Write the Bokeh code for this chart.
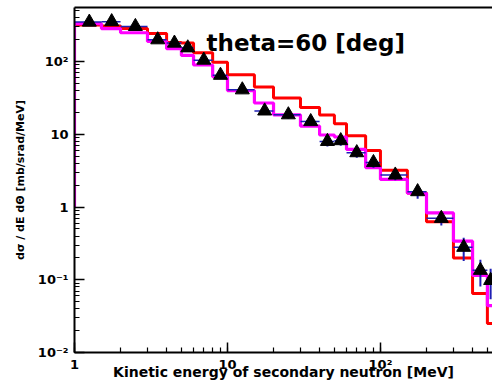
from bokeh.plotting import figure
from bokeh.models import ColumnDataSource, Label, LogAxis, CustomJSTickFormatter, Range1d
from bokeh.embed import file_html
from bokeh.resources import INLINE

# ---- data ----
bin_edges = [1, 1.5, 2, 3, 4, 5, 6, 8, 10, 15, 20, 30, 40, 50, 60, 80, 100,
             150, 200, 300, 400, 500, 550]
red_model = [320, 310, 285, 245, 183, 180, 133, 98, 66, 45, 31.6, 23.5,
             18.5, 14, 9.6, 6.0, 3.2, 1.56, 0.63, 0.2, 0.065, 0.025]
magenta_model = [333, 285, 250, 190, 151, 122, 90, 62, 40, 27, 18.6, 13,
                 9.8, 9.2, 6.2, 3.5, 2.4, 1.55, 0.83, 0.34, 0.115, 0.044]
data_energy = [1.25, 1.75, 2.5, 3.5, 4.5, 5.5, 7, 9, 12.5, 17.5, 25, 35,
               45, 55, 70, 90, 125, 175, 250, 350, 450, 525]
data_value = [350, 355, 305, 200, 180, 155, 105, 65, 41, 21, 18.6, 15,
              8.0, 8.2, 5.6, 4.1, 2.76, 1.63, 0.70, 0.28, 0.135, 0.098]
data_rel_err = [0.08, 0.08, 0.08, 0.1, 0.1, 0.1, 0.1, 0.1, 0.1, 0.12, 0.12,
                0.12, 0.15, 0.15, 0.15, 0.15, 0.15, 0.2, 0.2, 0.35, 0.4, 0.45]
hist_base = 1.0

x_lo, x_hi = 1.0, 540.0
y_lo, y_hi = 0.01, 556.0

p = figure(width=492, height=382, x_axis_type="log", y_axis_type="log",
           x_range=Range1d(x_lo, x_hi), y_range=Range1d(y_lo, y_hi),
           output_backend="svg", toolbar_location=None,
           min_border_left=74, min_border_right=0, min_border_top=7,
           min_border_bottom=30)
p.grid.visible = False
p.outline_line_color = None
p.background_fill_color = "white"


def step_path(edges, vals, base):
    xs, ys = [edges[0]], [base]
    for i, v in enumerate(vals):
        xs += [edges[i], edges[i + 1]]
        ys += [v, v]
    return xs, ys


rx, ry = step_path(bin_edges, red_model, hist_base)
mx, my = step_path(bin_edges, magenta_model, hist_base)
p.line(rx, ry, line_color="#ff0000", line_width=3)
p.line(mx, my, line_color="#ff00ff", line_width=3.2)

src = ColumnDataSource(dict(
    x=data_energy, y=data_value,
    xl=bin_edges[:-1], xr=bin_edges[1:],
    yl=[v * (1 - e) for v, e in zip(data_value, data_rel_err)],
    yh=[v * (1 + e) for v, e in zip(data_value, data_rel_err)],
))
p.segment(x0="xl", y0="y", x1="xr", y1="y", source=src,
          line_color="#1f1fb4", line_width=1.5)
p.segment(x0="x", y0="yl", x1="x", y1="yh", source=src,
          line_color="#1f1fb4", line_width=2)
p.scatter(x="x", y="y", source=src, marker="triangle", size=14,
          fill_color="black", line_color="black")

fmt = CustomJSTickFormatter(code="""
const e = Math.round(Math.log10(tick));
if (e === 0) return '1';
if (e === 1) return '10';
const sup = {'-':'\\u207b','0':'\\u2070','1':'\\u00b9','2':'\\u00b2','3':'\\u00b3',
             '4':'\\u2074','5':'\\u2075','6':'\\u2076','7':'\\u2077','8':'\\u2078','9':'\\u2079'};
return '10' + String(e).split('').map(c => sup[c]).join('');
""")

for ax in (p.xaxis[0], p.yaxis[0]):
    ax.formatter = fmt
    ax.axis_line_width = 2
    ax.axis_line_color = "black"
    ax.major_tick_in = 10
    ax.major_tick_out = 0
    ax.minor_tick_in = 5
    ax.minor_tick_out = 0
    ax.major_tick_line_width = 1.5
    ax.minor_tick_line_width = 1.2
    ax.major_label_text_font = "DejaVu Sans"
    ax.major_label_text_font_style = "bold"
    ax.major_label_text_font_size = "13px"
    ax.major_label_text_color = "black"

p.xaxis.major_label_standoff = 4
p.xaxis.axis_label = "Kinetic energy of secondary neutron [MeV]"
p.xaxis.axis_label_text_font = "DejaVu Sans"
p.xaxis.axis_label_text_font_style = "bold"
p.xaxis.axis_label_text_font_size = "14px"
p.xaxis.axis_label_standoff = -11
p.xaxis.axis_label_text_color = "black"

p.yaxis.major_label_standoff = 6
p.yaxis.axis_label = "d\u03c3 / dE d\u0398 [mb/srad/MeV]"
p.yaxis.axis_label_text_font = "DejaVu Sans"
p.yaxis.axis_label_text_font_style = "bold"
p.yaxis.axis_label_text_font_size = "11px"
p.yaxis.axis_label_standoff = 8
p.yaxis.axis_label_text_color = "black"

top = LogAxis(major_label_text_color=None, major_label_text_font_size="1px",
              major_tick_in=0, major_tick_out=0, minor_tick_in=0,
              minor_tick_out=0, major_label_standoff=0, axis_line_width=2,
              axis_line_color="black")
p.add_layout(top, "above")

title = Label(x=7.3, y=183, text="theta=60 [deg]",
              text_font="DejaVu Sans", text_font_style="bold",
              text_font_size="23px", text_align="left",
              text_baseline="middle", text_color="black")
p.add_layout(title)

open("out.html", "w").write(file_html(p, INLINE))
